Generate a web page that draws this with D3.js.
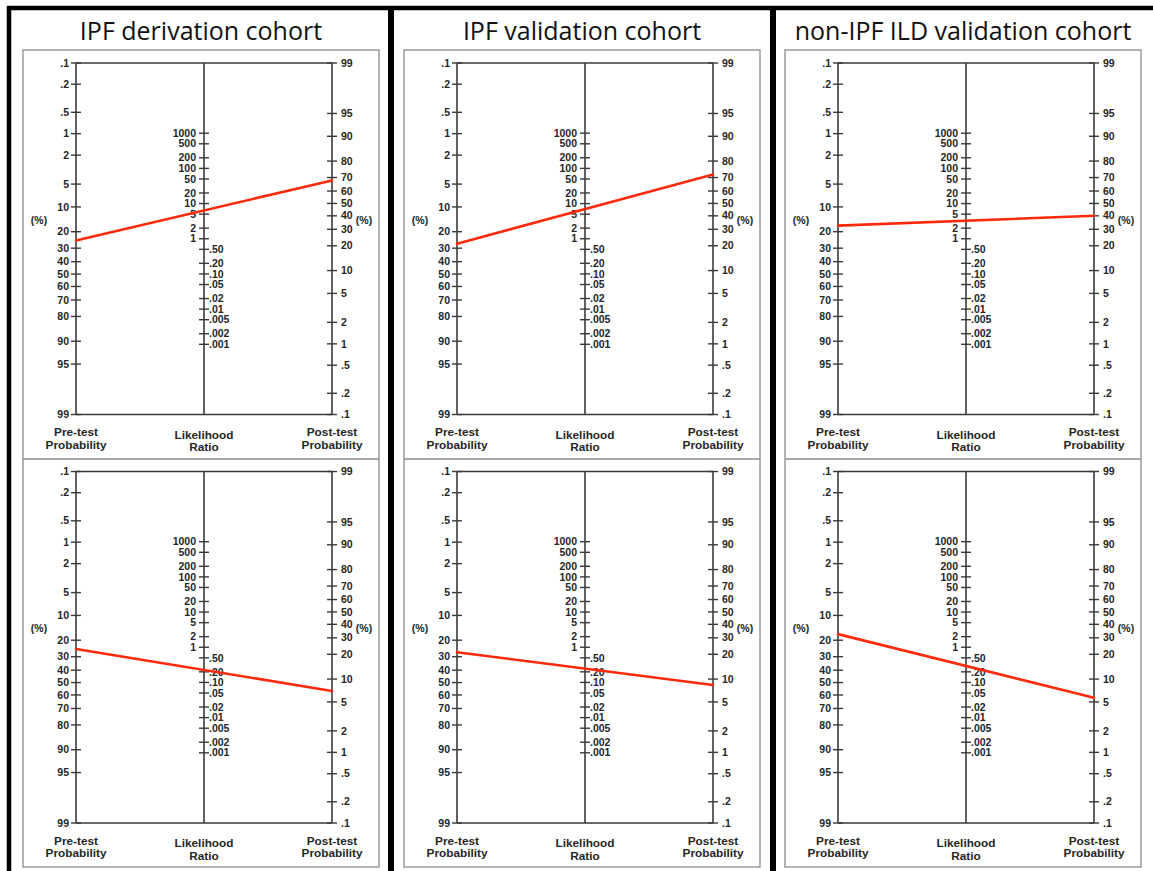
<!DOCTYPE html>
<html>
<head>
<meta charset="utf-8">
<script src="https://cdn.jsdelivr.net/npm/d3@7"></script>
<style>
  body { margin: 0; background: #fff; }
  svg { display: block; }
  .tick-label { font-family: "Liberation Sans", Arial, sans-serif; font-weight: bold; font-size: 10.5px; fill: #262626; }
  .axis-title { font-family: "Liberation Sans", Arial, sans-serif; font-weight: bold; font-size: 11.8px; fill: #262626; }
  .panel-title { font-family: "Open Sans", sans-serif; font-size: 25px; fill: #111; }
</style>
</head>
<body>
<div id="chart"></div>
<script>
// cohort titles (one per column)
const cohorts = ["IPF derivation cohort", "IPF validation cohort", "non-IPF ILD validation cohort"];

// pre-test / post-test probability (%), row by row
const preTestTop = [25, 27, 17];
const postTestTop = [68, 72, 40];
const preTestBottom = [25, 27, 17];
const postTestBottom = [7, 8.4, 5.7];

// nomogram tick values
const probTicks = [0.1, 0.2, 0.5, 1, 2, 5, 10, 20, 30, 40, 50, 60, 70, 80, 90, 95, 99];
const lrHigh = [1000, 500, 200, 100, 50, 20, 10, 5, 2, 1];
const lrLow = [0.5, 0.2, 0.1, 0.05, 0.02, 0.01, 0.005, 0.002, 0.001];
const lrLowLabels = [".50", ".20", ".10", ".05", ".02", ".01", ".005", ".002", ".001"];

const width = 1153, height = 871;
const svg = d3.select('#chart').append('svg')
    .attr('width', width)
    .attr('height', height);

const logit = p => Math.log(p / (1 - p));
const fmtProb = p => p < 1 ? String(p).replace(/^0/, '') : String(p);

const colX = i => 23 + 381 * i;     // left edge of each column's box
const boxW = 356;
const rowTop = r => 50 + 408.5 * r; // top edge of each row's box
const axisColor = '#3a3a3a';
const tickLen = 5;

// outer frame
svg.append('line').attr('x1', 7).attr('x2', width).attr('y1', 8).attr('y2', 8)
    .attr('stroke', '#000').attr('stroke-width', 4.5);
[[9, 4.5], [391, 6], [773, 6]].forEach(([x, w]) => {
    svg.append('line').attr('x1', x).attr('x2', x).attr('y1', 6).attr('y2', height)
        .attr('stroke', '#000').attr('stroke-width', w);
});

cohorts.forEach((title, c) => {
    const x0 = colX(c);

    svg.append('text')
        .attr('class', 'panel-title')
        .attr('x', x0 + boxW / 2)
        .attr('y', 40)
        .attr('text-anchor', 'middle')
        .text(title);

    // gray box around both nomograms
    svg.append('rect')
        .attr('x', x0).attr('y', 50)
        .attr('width', boxW).attr('height', 817)
        .attr('fill', 'none').attr('stroke', '#8c8c8c').attr('stroke-width', 1.3);
    svg.append('line')
        .attr('x1', x0).attr('x2', x0 + boxW).attr('y1', 459).attr('y2', 459)
        .attr('stroke', '#8c8c8c').attr('stroke-width', 1.3);

    [[preTestTop, postTestTop], [preTestBottom, postTestBottom]].forEach(([pre, post], r) => {
        drawNomogram(x0, rowTop(r), pre[c], post[c]);
    });
});

function drawNomogram(x0, y0, preP, postP) {
    const top = y0 + 13, bottom = y0 + 364.5;
    const xL = x0 + 53, xM = x0 + 181, xR = x0 + 309;
    const g = svg.append('g');

    const preScale = d3.scaleLinear()
        .domain([logit(0.001), logit(0.99)])
        .range([top, bottom]);
    const postScale = d3.scaleLinear()
        .domain([logit(0.99), logit(0.001)])
        .range([top, bottom]);
    const k = (bottom - top) / (logit(0.99) - logit(0.001));
    const mid = (preScale(0) + postScale(0)) / 2;
    const half = k / 2 * Math.log(1000);
    const lrScale = d3.scaleLog()
        .domain([0.001, 1000])
        .range([mid + half, mid - half]);

    const line = (x1, y1, x2, y2, w) => g.append('line')
        .attr('x1', x1).attr('y1', y1).attr('x2', x2).attr('y2', y2)
        .attr('stroke', axisColor).attr('stroke-width', w || 1.6);

    // frame of the three axes
    line(xL, top, xR, top);
    line(xL, bottom, xR, bottom);
    line(xL, top, xL, bottom);
    line(xM, top, xM, bottom);
    line(xR, top, xR, bottom);

    // pre-test axis
    probTicks.forEach(p => {
        const y = preScale(logit(p / 100));
        line(xL - tickLen, y, xL + tickLen, y, 1.4);
        g.append('text').attr('class', 'tick-label')
            .attr('x', xL - 7).attr('y', y).attr('dy', '0.35em')
            .attr('text-anchor', 'end').text(fmtProb(p));
    });

    // post-test axis
    probTicks.forEach(p => {
        const y = postScale(logit(p / 100));
        line(xR - tickLen, y, xR + tickLen, y, 1.4);
        g.append('text').attr('class', 'tick-label')
            .attr('x', xR + 9).attr('y', y).attr('dy', '0.35em')
            .attr('text-anchor', 'start').text(fmtProb(p));
    });

    // likelihood ratio axis
    lrHigh.forEach(v => {
        const y = lrScale(v);
        line(xM - tickLen, y, xM + tickLen, y, 1.4);
        g.append('text').attr('class', 'tick-label')
            .attr('x', xM - 8).attr('y', y).attr('dy', '0.35em')
            .attr('text-anchor', 'end').text(v);
    });
    lrLow.forEach((v, i) => {
        const y = lrScale(v);
        line(xM - tickLen, y, xM + tickLen, y, 1.4);
        g.append('text').attr('class', 'tick-label')
            .attr('x', xM + 5).attr('y', y).attr('dy', '0.35em')
            .attr('text-anchor', 'start').text(lrLowLabels[i]);
    });

    // (%) markers
    [[x0 + 16, '(%)'], [x0 + 341, '(%)']].forEach(([x, t]) => {
        g.append('text').attr('class', 'tick-label')
            .attr('x', x).attr('y', top + 157).attr('dy', '0.35em')
            .attr('text-anchor', 'middle').text(t);
    });

    // axis titles
    const titles = [
        [xL, ['Pre-test', 'Probability'], 369],
        [xM, ['Likelihood', 'Ratio'], 371.5],
        [xR, ['Post-test', 'Probability'], 369]
    ];
    titles.forEach(([x, lines, dy]) => {
        lines.forEach((t, i) => {
            g.append('text').attr('class', 'axis-title')
                .attr('x', x).attr('y', top + dy + i * 12.5).attr('dy', '0.35em')
                .attr('text-anchor', 'middle').text(t);
        });
    });

    // red line: pre-test through LR to post-test
    g.append('line')
        .attr('x1', xL).attr('y1', preScale(logit(preP / 100)))
        .attr('x2', xR).attr('y2', postScale(logit(postP / 100)))
        .attr('stroke', '#ff2a0a').attr('stroke-width', 2.6)
        .attr('stroke-linecap', 'round');
}
</script>
</body>
</html>
